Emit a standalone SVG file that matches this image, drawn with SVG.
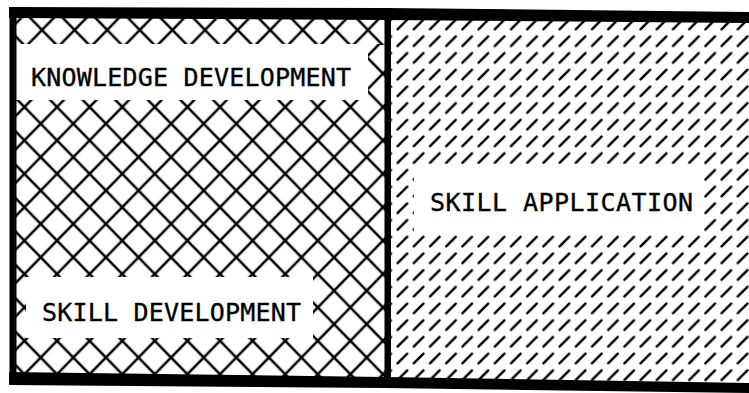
<svg xmlns="http://www.w3.org/2000/svg" width="749" height="393" viewBox="0 0 749 393">
<style>
.lbl{font-family:"DejaVu Sans Mono","Liberation Mono",monospace;font-size:25px;fill:#000;stroke:#000;stroke-width:0.35}
.box{fill:#fff}
.frame{fill:#000}
</style>
<defs>
<pattern id="lat" patternUnits="userSpaceOnUse" width="100" height="100" patternTransform="translate(57 90.3) scale(0.2305 0.2362) rotate(45)">
<rect x="0" y="44.6" width="100" height="10.8" fill="#000"/>
<rect x="44.6" y="0" width="10.8" height="100" fill="#000"/>
</pattern>
<pattern id="latTop" patternUnits="userSpaceOnUse" width="100" height="100" patternTransform="translate(42 13.3) scale(0.2305 0.2362) rotate(45)">
<rect x="0" y="44.6" width="100" height="10.8" fill="#000"/>
<rect x="44.6" y="0" width="10.8" height="100" fill="#000"/>
</pattern>
<pattern id="hat" patternUnits="userSpaceOnUse" x="604.9" y="99.65" width="16.2" height="16.7">
<line x1="3.3" y1="13.15" x2="12.9" y2="3.55" stroke="#000" stroke-width="2.5" stroke-linecap="round"/>
</pattern>
</defs>
<rect width="749" height="393" fill="#fff"/>
<g id="left-panel">
<rect x="16" y="17" width="369" height="28" fill="url(#latTop)"/>
<rect x="16" y="44" width="369" height="336" fill="url(#lat)"/>
</g>
<g id="right-panel">
<rect x="390" y="19" width="359" height="367" fill="url(#hat)"/>
</g>
<g id="knowledge-development">
<rect class="box" x="16" y="44" width="352" height="56"/>
<text class="lbl" x="31" y="86" textLength="320" lengthAdjust="spacing">KNOWLEDGE DEVELOPMENT</text>
</g>
<g id="skill-development">
<rect class="box" x="26" y="277" width="287" height="61"/>
<text class="lbl" x="42" y="321" textLength="259" lengthAdjust="spacing">SKILL DEVELOPMENT</text>
</g>
<g id="skill-application">
<rect class="box" x="414" y="164" width="288" height="69"/>
<text class="lbl" x="430" y="211" textLength="263" lengthAdjust="spacing">SKILL APPLICATION</text>
</g>
<g id="frame">
<polygon class="frame" points="9,7 385,8 749,12 749,23 385,20 9,18"/>
<rect class="frame" x="9.5" y="7" width="7" height="378"/>
<polygon class="frame" points="9,372 385,377 749,383 749,393 385,388 9,385"/>
<rect class="frame" x="384.5" y="8" width="6.5" height="380"/>
</g>
<g id="connectors"/>
</svg>
